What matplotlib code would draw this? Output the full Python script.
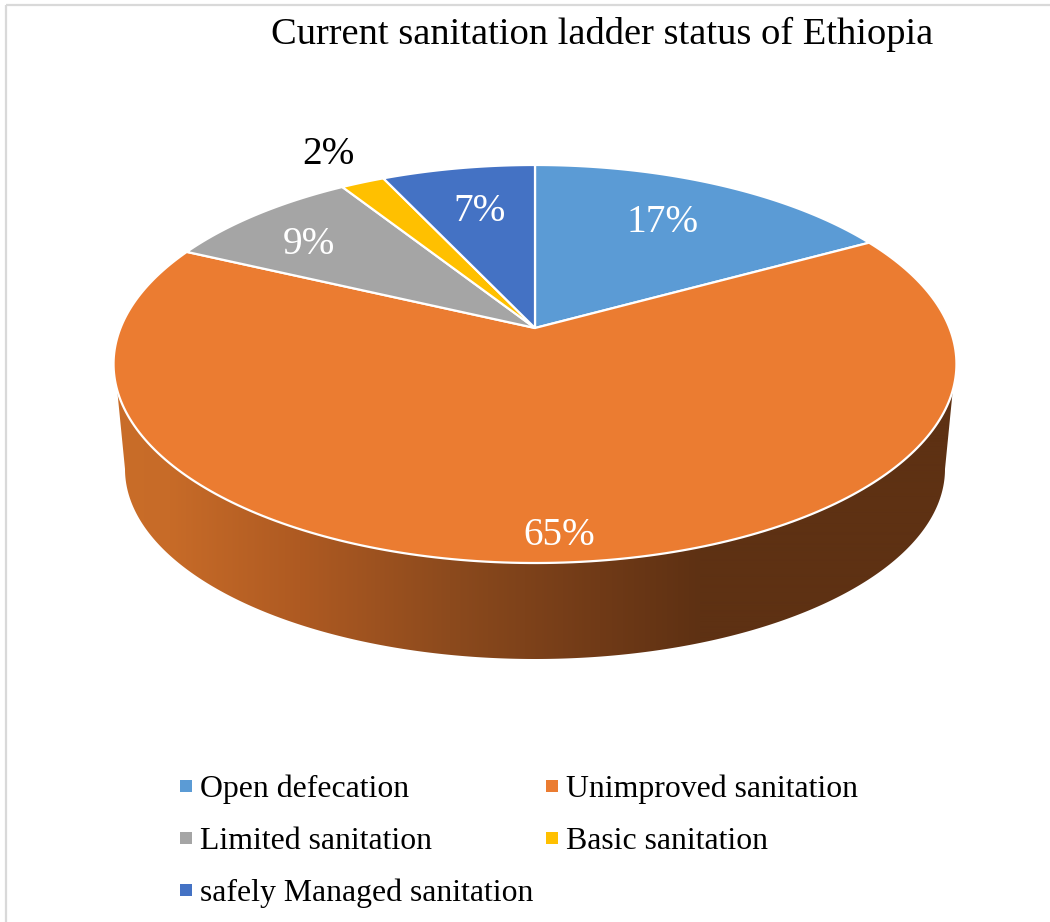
import numpy as np
import matplotlib
matplotlib.use("Agg")
import matplotlib.pyplot as plt
from matplotlib.lines import Line2D
from matplotlib.patches import Polygon, Rectangle

categories = ["Open defecation", "Unimproved sanitation", "Limited sanitation",
              "Basic sanitation", "safely Managed sanitation"]
values = [17, 65, 9, 2, 7]
colors = ["#5B9BD5", "#EB7C31", "#A5A5A5", "#FFC000", "#4472C4"]
label_colors = ["white", "white", "white", "black", "white"]
title = "Current sanitation ladder status of Ethiopia"

plt.rcParams["font.family"] = ["Liberation Serif", "DejaVu Serif"]
W, H = 1050, 922
fig = plt.figure(figsize=(W / 100, H / 100), dpi=100)
ax = fig.add_axes([0, 0, 1, 1])
ax.set_axis_off()

# projective tilt of the unit disc: hub sits above the centre of the rim ellipse
CX, CY, A, B, K = 535.0, 328.0, 414.5, 192.5, 0.1809


def project(theta):
    """theta is clockwise from 12 o'clock (radians); returns rim pixels."""
    x, y = np.sin(theta), np.cos(theta)
    d = 1 + K * y
    return CX + A * x / d, CY - B * y / d


# side wall
t = np.linspace(np.pi * 0.5 + 0.31, np.pi * 1.5 - 0.31, 400)
top_x, top_y = project(t)
bt = np.linspace(0, np.pi, 300)
bot_x = 535 + 410 * np.cos(bt)
bot_y = 469 + 190 * np.sin(bt)
# the rim runs right -> left, so the bottom edge returns left -> right
order_x = np.r_[top_x, bot_x[::-1]]
order_y = np.r_[top_y, bot_y[::-1]]
wall_patch = Polygon(np.column_stack([order_x, order_y]), closed=True,
                     facecolor="none", edgecolor="none")
ax.add_patch(wall_patch)
stops_x = [118, 170, 300, 450, 600, 700, 1000]
stops_c = np.array([[201, 109, 41], [199, 107, 40], [174, 90, 34], [140, 74, 29],
                    [112, 58, 23], [94, 49, 19], [94, 49, 19]]) / 255
xs = np.arange(100, 980)
grad = np.stack([np.interp(xs, stops_x, stops_c[:, i]) for i in range(3)], axis=-1)[None, :, :]
im = ax.imshow(grad, extent=(100, 980, 700, 360), aspect="auto", interpolation="bilinear", zorder=1)
im.set_clip_path(wall_patch)

# top slices
fractions = np.cumsum([0] + values) / sum(values)
for i, c in enumerate(colors):
    th = np.linspace(fractions[i], fractions[i + 1], 240) * 2 * np.pi
    px, py = project(th)
    ax.add_patch(Polygon(np.column_stack([np.r_[CX, px], np.r_[CY, py]]), closed=True,
                         facecolor=c, edgecolor="white", linewidth=1.6,
                         joinstyle="round", zorder=3))

# data labels
label_xy = [(663, 222), (559, 535), (309, 244), (328, 155), (480, 211)]
for v, (lx, ly), c in zip(values, label_xy, label_colors):
    ax.text(lx, ly, f"{v}%", color=c, fontsize=28.3, ha="center", va="center", zorder=5)

ax.text(602, 34, title, fontsize=27.7, ha="center", va="center", color="black")

# chart frame: only the left and top edges fall inside the picture
ax.add_patch(Rectangle((6, 5), 1100, 1000, facecolor="none", edgecolor="#D9D9D9", linewidth=1.6, zorder=0))

# legend
order = [0, 2, 4, 1, 3]
handles = [Line2D([], [], linestyle="none", marker="s", markersize=8, markeredgewidth=0,
                  color=colors[i], label=categories[i]) for i in order]
leg = ax.legend(handles=handles, ncol=2, frameon=False, fontsize=22.9,
                loc="upper left", bbox_to_anchor=(176 / W, 1 - 775 / H), bbox_transform=ax.transAxes,
                handlelength=0.6, handletextpad=0.16, labelspacing=0.70, columnspacing=0.27,
                borderpad=0, borderaxespad=0)

ax.set_xlim(0, W)
ax.set_ylim(H, 0)
fig.savefig("out.png", dpi=100)
